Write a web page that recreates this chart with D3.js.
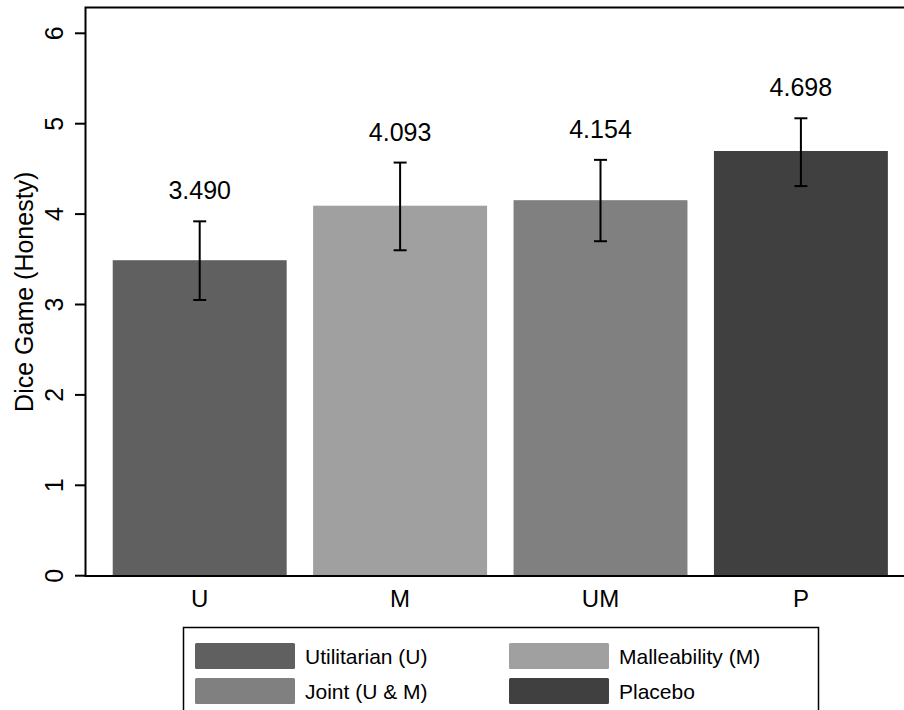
<!DOCTYPE html>
<html>
<head>
<meta charset="utf-8">
<script src="https://cdn.jsdelivr.net/npm/d3@7"></script>
<style>
  html, body { margin: 0; padding: 0; background: #fff; }
  svg { display: block; font-family: "Liberation Sans", Arial, Helvetica, sans-serif; }
</style>
</head>
<body>
<svg id="chart" width="904" height="710"></svg>
<script>
// Group codes, means and 95% confidence limits
const categories = ["U", "M", "UM", "P"];
const means = [3.490, 4.093, 4.154, 4.698];
const ciLow = [3.05, 3.60, 3.70, 4.31];
const ciHigh = [3.92, 4.57, 4.60, 5.06];
const barColors = ["#606060", "#a0a0a0", "#808080", "#404040"];
const legendLabels = ["Utilitarian (U)", "Malleability (M)", "Joint (U & M)", "Placebo"];
const yTicks = [0, 1, 2, 3, 4, 5, 6];
const yTitle = "Dice Game (Honesty)";

const svg = d3.select("#chart");

const frame = { left: 85.5, top: 7.5, right: 960, bottom: 576 };

const y = d3.scaleLinear().domain([0, 6]).range([575.7, 33.3]);
const x = d3.scaleBand()
  .domain(categories)
  .range([99.5, 901.1])
  .paddingInner(0.132)
  .paddingOuter(0.066);

const rows = categories.map((c, i) => ({
  cat: c, mean: means[i], lo: ciLow[i], hi: ciHigh[i], color: barColors[i]
}));

// Bars
svg.append("g").selectAll("rect")
  .data(rows).join("rect")
  .attr("x", d => x(d.cat))
  .attr("width", x.bandwidth())
  .attr("y", d => y(d.mean))
  .attr("height", d => y(0) - y(d.mean))
  .attr("fill", d => d.color);

// Error bars
const eb = svg.append("g").attr("stroke", "#000").attr("stroke-width", 2).attr("fill", "none");
rows.forEach(d => {
  const cx = x(d.cat) + x.bandwidth() / 2;
  eb.append("line").attr("x1", cx).attr("x2", cx).attr("y1", y(d.hi)).attr("y2", y(d.lo));
  eb.append("line").attr("x1", cx - 6.5).attr("x2", cx + 6.5).attr("y1", y(d.hi)).attr("y2", y(d.hi));
  eb.append("line").attr("x1", cx - 6.5).attr("x2", cx + 6.5).attr("y1", y(d.lo)).attr("y2", y(d.lo));
});

// Value labels
svg.append("g").selectAll("text")
  .data(rows).join("text")
  .attr("x", d => x(d.cat) + x.bandwidth() / 2)
  .attr("y", d => y(d.hi) - 22)
  .attr("text-anchor", "middle")
  .attr("font-size", 25)
  .attr("fill", "#000")
  .text(d => d.mean.toFixed(3));

// Plot frame (left axis, top border, baseline)
svg.append("path")
  .attr("d", `M${frame.right},${frame.top}H${frame.left}V${frame.bottom}H${frame.right}`)
  .attr("fill", "none").attr("stroke", "#000").attr("stroke-width", 2);

// Y axis ticks and rotated labels
const yAxis = svg.append("g");
yAxis.selectAll("line").data(yTicks).join("line")
  .attr("x1", 75).attr("x2", frame.left)
  .attr("y1", d => y(d)).attr("y2", d => y(d))
  .attr("stroke", "#000").attr("stroke-width", 2);
yAxis.selectAll("text").data(yTicks).join("text")
  .attr("transform", d => `translate(63,${y(d)}) rotate(-90)`)
  .attr("text-anchor", "middle")
  .attr("font-size", 25)
  .text(d => d);

svg.append("text")
  .attr("transform", `translate(33,${(frame.top + frame.bottom) / 2}) rotate(-90)`)
  .attr("text-anchor", "middle")
  .attr("font-size", 25)
  .text(yTitle);

// X category labels
svg.append("g").selectAll("text")
  .data(categories).join("text")
  .attr("x", d => x(d) + x.bandwidth() / 2)
  .attr("y", 607)
  .attr("text-anchor", "middle")
  .attr("font-size", 24)
  .text(d => d);

// Legend
const legend = svg.append("g");
legend.append("rect")
  .attr("x", 183.5).attr("y", 627.5)
  .attr("width", 635).attr("height", 100)
  .attr("fill", "#fff").attr("stroke", "#000").attr("stroke-width", 1.5);
const colX = [195, 509];
const rowY = [643, 678];
legendLabels.forEach((lab, i) => {
  const cx = colX[i % 2], ry = rowY[Math.floor(i / 2)];
  legend.append("rect")
    .attr("x", cx).attr("y", ry).attr("width", 100).attr("height", 26)
    .attr("rx", 1.5).attr("fill", barColors[i]);
  legend.append("text")
    .attr("x", cx + 110).attr("y", ry + 13)
    .attr("dy", "0.36em")
    .attr("font-size", 21)
    .text(lab);
});
</script>
</body>
</html>
